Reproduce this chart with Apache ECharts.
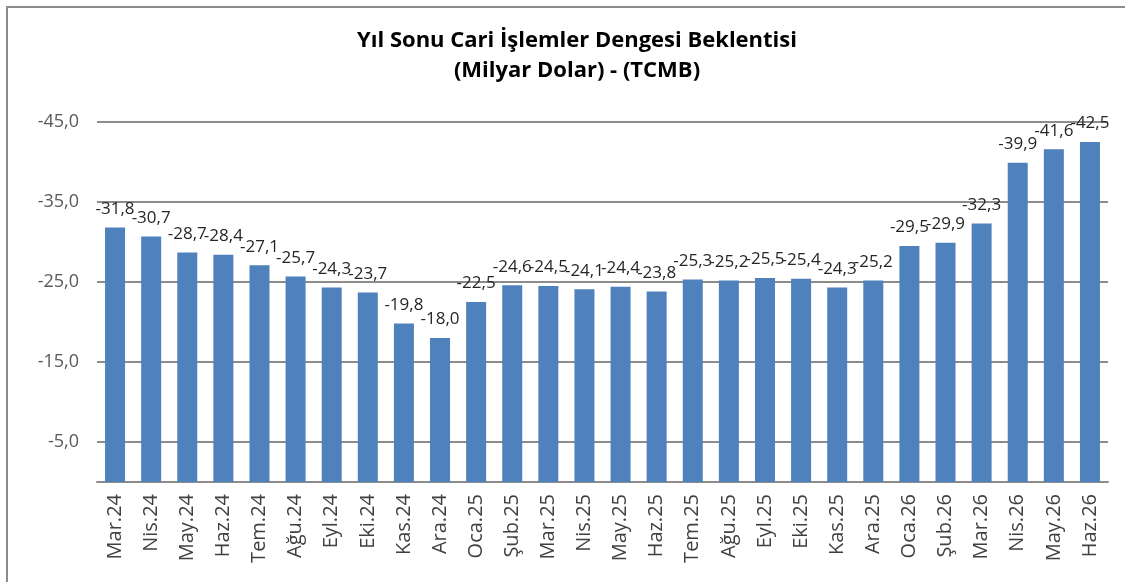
<!DOCTYPE html>
<html>
<head>
<meta charset="utf-8">
<script src="https://cdn.jsdelivr.net/npm/echarts@6/dist/echarts.min.js"></script>
<style>
  html, body { margin: 0; padding: 0; background: #fff; }
  #chart { width: 1125px; height: 582px; }
</style>
</head>
<body>
<div id="chart"></div>
<script>
// aylar
const categories = ['Mar.24', 'Nis.24', 'May.24', 'Haz.24', 'Tem.24', 'Ağu.24', 'Eyl.24', 'Eki.24', 'Kas.24', 'Ara.24',
  'Oca.25', 'Şub.25', 'Mar.25', 'Nis.25', 'May.25', 'Haz.25', 'Tem.25', 'Ağu.25', 'Eyl.25', 'Eki.25', 'Kas.25', 'Ara.25',
  'Oca.26', 'Şub.26', 'Mar.26', 'Nis.26', 'May.26', 'Haz.26'];
// yıl sonu cari işlemler dengesi beklentisi (milyar dolar)
const values = [-31.8, -30.7, -28.7, -28.4, -27.1, -25.7, -24.3, -23.7, -19.8, -18.0,
  -22.5, -24.6, -24.5, -24.1, -24.4, -23.8, -25.3, -25.2, -25.5, -25.4, -24.3, -25.2,
  -29.5, -29.9, -32.3, -39.9, -41.6, -42.5];
const yMin = -45, yMax = 0, yStep = 10;

const fmt = v => v.toFixed(1).replace('.', ',');
const font = 'Open Sans';

const myChart = echarts.init(document.getElementById('chart'));
myChart.setOption({
  animation: false,
  backgroundColor: '#fff',
  title: {
    text: 'Yıl Sonu Cari İşlemler Dengesi Beklentisi\n(Milyar Dolar) - (TCMB)',
    left: 572, top: 21, textAlign: 'center',
    textStyle: { fontFamily: font, fontWeight: 'bold', fontSize: 22, lineHeight: 30, color: '#000' }
  },
  graphic: [{
    type: 'rect', silent: true,
    shape: { x: 7, y: 7, width: 1200, height: 650 },
    style: { fill: 'none', stroke: '#8c8c8c', lineWidth: 2 }
  }],
  grid: { left: 97, right: 17, top: 122, bottom: 100 },
  xAxis: {
    type: 'category',
    data: categories,
    axisTick: { show: false },
    axisLine: { lineStyle: { color: '#8c8c8c', width: 2 } },
    axisLabel: { rotate: 90, margin: 12, color: '#404040', fontFamily: font, fontSize: 20 }
  },
  yAxis: {
    type: 'value',
    inverse: true,
    min: yMin, max: yMax, interval: yStep,
    axisLine: { show: false },
    axisTick: { show: false },
    splitLine: { lineStyle: { color: '#8c8c8c', width: 2 } },
    axisLabel: {
      margin: 18, color: '#595959', fontFamily: font, fontSize: 18,
      showMaxLabel: false,
      formatter: v => fmt(v)
    }
  },
  series: [{
    type: 'bar',
    data: values,
    barWidth: 20,
    itemStyle: { color: '#4f81bd' },
    label: {
      show: true, position: 'top', distance: 10,
      color: '#262626', fontFamily: font, fontSize: 17,
      formatter: p => fmt(p.value)
    }
  }]
});
</script>
</body>
</html>
